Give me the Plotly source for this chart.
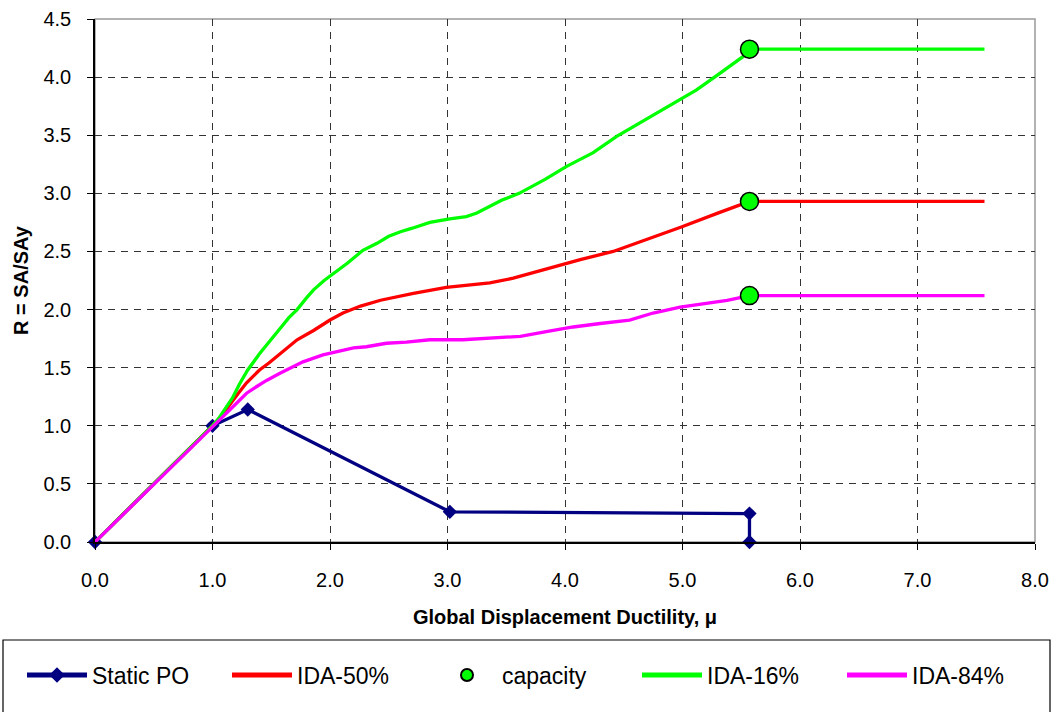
import plotly.graph_objects as go

# ---- data ----
po_x = [0.0, 1.0, 1.30, 3.02, 5.57, 5.57]
po_y = [0.0, 1.0, 1.14, 0.26, 0.245, 0.0]

ida50_x = [0, 1.0, 1.08, 1.15, 1.22, 1.29, 1.40, 1.48, 1.55, 1.63, 1.72, 1.86, 2.00, 2.11, 2.26, 2.43,
           2.71, 2.99, 3.20, 3.36, 3.56, 3.84, 4.13, 4.41, 4.69, 4.99, 5.30, 5.49, 5.57, 7.57]
ida50_y = [0, 1.0, 1.09, 1.19, 1.28, 1.37, 1.48, 1.54, 1.60, 1.67, 1.74, 1.82, 1.91, 1.97, 2.03, 2.08,
           2.14, 2.19, 2.21, 2.23, 2.27, 2.35, 2.43, 2.50, 2.60, 2.71, 2.83, 2.90, 2.93, 2.93]

ida16_x = [0, 1.0, 1.05, 1.10, 1.17, 1.23, 1.30, 1.40, 1.50, 1.57, 1.65, 1.72, 1.80, 1.86, 1.95, 2.03,
           2.15, 2.28, 2.40, 2.50, 2.60, 2.70, 2.85, 3.02, 3.16, 3.25, 3.36, 3.46, 3.61, 3.83, 4.01,
           4.24, 4.44, 4.66, 4.90, 5.12, 5.30, 5.52, 5.57, 7.57]
ida16_y = [0, 1.0, 1.06, 1.13, 1.24, 1.36, 1.48, 1.62, 1.75, 1.83, 1.93, 2.00, 2.10, 2.17, 2.25, 2.31,
           2.40, 2.51, 2.57, 2.63, 2.67, 2.70, 2.75, 2.78, 2.80, 2.83, 2.89, 2.94, 3.00, 3.12, 3.23,
           3.35, 3.49, 3.62, 3.76, 3.89, 4.02, 4.18, 4.24, 4.24]

ida84_x = [0, 1.0, 1.08, 1.15, 1.22, 1.29, 1.38, 1.46, 1.57, 1.67, 1.77, 1.94, 2.20, 2.31, 2.48, 2.65,
           2.85, 3.13, 3.42, 3.62, 3.84, 4.07, 4.30, 4.55, 4.75, 4.98, 5.38, 5.52, 5.57, 7.57]
ida84_y = [0, 1.0, 1.07, 1.14, 1.21, 1.28, 1.34, 1.39, 1.45, 1.50, 1.55, 1.61, 1.67, 1.68, 1.71, 1.72,
           1.74, 1.74, 1.76, 1.77, 1.81, 1.85, 1.88, 1.91, 1.97, 2.02, 2.08, 2.11, 2.12, 2.12]

cap_x = [5.57, 5.57, 5.57]
cap_y = [4.24, 2.93, 2.12]

x_ticks = [0, 1, 2, 3, 4, 5, 6, 7, 8]
y_ticks = [0, 0.5, 1.0, 1.5, 2.0, 2.5, 3.0, 3.5, 4.0, 4.5]

FONT = "Arial, Liberation Sans, sans-serif"

fig = go.Figure()
fig.add_trace(go.Scatter(x=po_x, y=po_y, name="Static PO", mode="lines+markers",
                         line=dict(color="#000080", width=3.3),
                         marker=dict(symbol="diamond", size=11, color="#000080"),
                         cliponaxis=False, legendrank=1))
fig.add_trace(go.Scatter(x=ida50_x, y=ida50_y, name="IDA-50%", mode="lines",
                         line=dict(color="#FF0000", width=3.3), legendrank=2))
fig.add_trace(go.Scatter(x=ida16_x, y=ida16_y, name="IDA-16%", mode="lines",
                         line=dict(color="#00FF00", width=3.3), legendrank=4))
fig.add_trace(go.Scatter(x=ida84_x, y=ida84_y, name="IDA-84%", mode="lines",
                         line=dict(color="#FF00FF", width=3.3), legendrank=5))
fig.add_trace(go.Scatter(x=cap_x, y=cap_y, name="capacity", mode="markers",
                         marker=dict(symbol="circle", size=18, color="#00FF00",
                                     line=dict(color="black", width=1.5)),
                         cliponaxis=False, legendrank=3))

axis_common = dict(showgrid=True, gridcolor="#333333", gridwidth=1, griddash="7px,6px",
                   showline=True, linecolor="black", linewidth=1.5,
                   ticks="outside", ticklen=6, tickcolor="black",
                   tickfont=dict(family=FONT, size=20, color="black"),
                   zeroline=False, tickformat=".1f")

fig.update_xaxes(range=[0, 8], tickvals=x_ticks, ticklabelstandoff=13, **axis_common,
                 title=dict(text="<b>Global Displacement Ductility, μ</b>",
                            font=dict(family=FONT, size=20, color="black"), standoff=20))
fig.update_yaxes(range=[0, 4.5], tickvals=y_ticks, ticklabelstandoff=12, **axis_common,
                 title=dict(text="<b>R = SA/SAy</b>",
                            font=dict(family=FONT, size=20, color="black"), standoff=9))

# grey frame on top/right and legend box
fig.add_shape(type="rect", xref="paper", yref="paper", x0=0, x1=1, y0=0, y1=1,
              line=dict(color="#999999", width=1.5), layer="below")
fig.add_shape(type="rect", xref="paper", yref="paper",
              x0=(3 - 95) / 940, x1=(1050 - 95) / 940,
              y0=-(720 - 542) / 523, y1=-(640 - 542) / 523,
              line=dict(color="black", width=1.2), fillcolor="white", layer="below")

fig.update_layout(
    width=1056, height=712,
    margin=dict(l=95, r=21, t=19, b=170, autoexpand=False),
    paper_bgcolor="white", plot_bgcolor="white",
    font=dict(family=FONT, color="black"),
    showlegend=True,
    legend=dict(orientation="h", x=(22 - 95) / 940, xanchor="left",
                y=-(675 - 542) / 523, yanchor="middle",
                entrywidth=130, entrywidthmode="pixels", itemwidth=60,
                itemsizing="constant",
                font=dict(family=FONT, size=23, color="black"),
                bgcolor="rgba(0,0,0,0)", traceorder="normal"),
)

fig.write_html("out.html")
